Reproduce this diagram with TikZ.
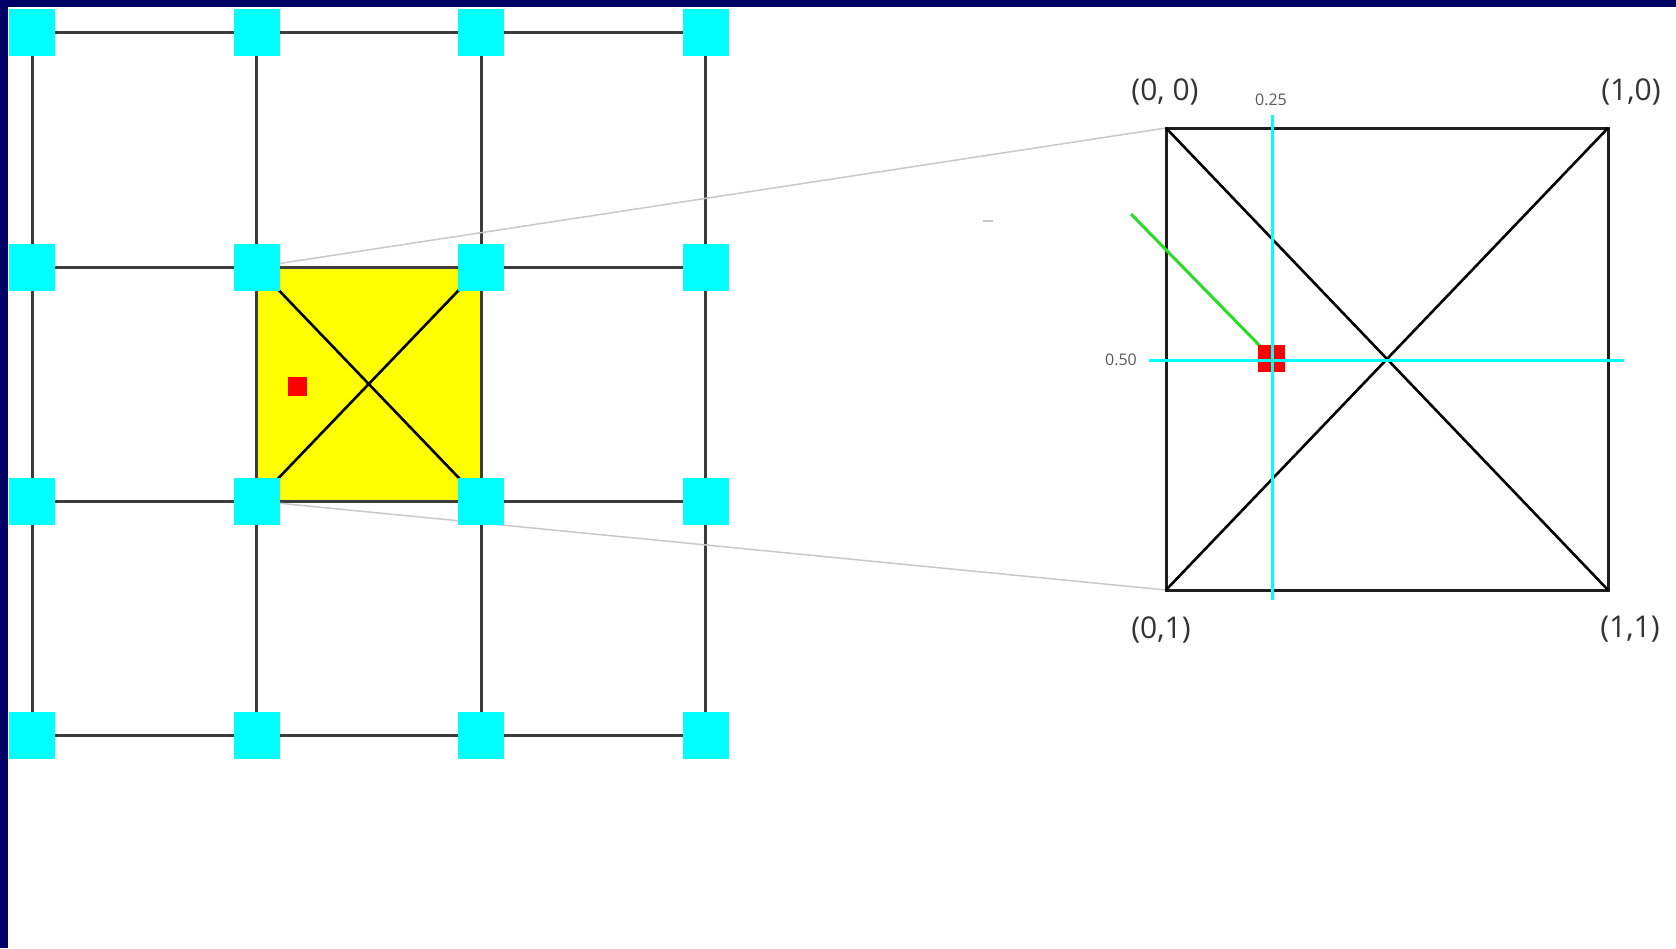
\documentclass[tikz,border=0pt]{standalone}
\usepackage{fontspec}
\setmainfont{Open Sans}
\definecolor{navyband}{RGB}{0,0,102}
\definecolor{cyanbox}{RGB}{0,255,255}
\definecolor{gridgray}{RGB}{60,60,60}
\definecolor{linkgray}{RGB}{200,200,200}
\definecolor{cellyellow}{RGB}{255,255,0}
\definecolor{probered}{RGB}{255,0,0}
\definecolor{raygreen}{RGB}{40,220,40}
\definecolor{ticktext}{RGB}{90,90,90}
\pgfdeclarelayer{bg}
\pgfdeclarelayer{page}
\pgfsetlayers{page,bg,main}
\begin{document}
\begin{tikzpicture}[x=1pt,y=-1pt,
  vtx/.style={fill=cyanbox, draw=none, inner sep=0pt, minimum width=46pt, minimum height=47pt},
  gridline/.style={draw=gridgray, line width=3pt},
  edgeline/.style={draw=black!88, line width=3pt},
  diagline/.style={draw=black, line width=2.6pt},
  linkline/.style={draw=linkgray, line width=1.5pt},
  crossline/.style={draw=cyanbox, line width=3pt},
  corner/.style={font=\fontsize{30}{36}\selectfont, text=black!80, inner sep=0pt},
  tick/.style={font=\fontsize{16}{19}\selectfont, text=ticktext, inner sep=0pt}]
\useasboundingbox (0,0) rectangle (1676,948);
\begin{pgfonlayer}{page}
  \fill[white] (0,0) rectangle (1676,948);
  \fill[navyband] (0,0) rectangle (1676,7);
  \fill[navyband] (0,0) rectangle (8,948);
\end{pgfonlayer}

% lattice vertices
\foreach \i/\x in {1/32,2/256.5,3/481,4/705.5}
  \foreach \j/\y in {1/32,2/267,3/501,4/735}
    \node[vtx] (v\i\j) at (\x,\y) {};

\begin{pgfonlayer}{bg}
  % highlighted cell
  \fill[cellyellow] (v22.center) rectangle (v33.center);
  % lattice edges
  \foreach \j in {1,2,3,4}{
    \draw[gridline] (v1\j.center) -- (v2\j.center);
    \draw[gridline] (v2\j.center) -- (v3\j.center);
    \draw[gridline] (v3\j.center) -- (v4\j.center);
  }
  \foreach \i in {1,2,3,4}{
    \draw[gridline] (v\i1.center) -- (v\i2.center);
    \draw[gridline] (v\i2.center) -- (v\i3.center);
    \draw[gridline] (v\i3.center) -- (v\i4.center);
  }
  \draw[diagline] (v22.center) -- (v33.center);
  \draw[diagline] (v32.center) -- (v23.center);
\end{pgfonlayer}

% sample point inside the cell
\fill[probered] (288,377) rectangle (307,396);

% enlarged cell
\coordinate (c00) at (1166,128);
\coordinate (c10) at (1608,128);
\coordinate (c01) at (1166,590);
\coordinate (c11) at (1608,590);
\draw[edgeline] (c00) -- (c10) -- (c11) -- (c01) -- cycle;
\draw[diagline] (c00) -- (c11);
\draw[diagline] (c10) -- (c01);

\begin{pgfonlayer}{bg}
  \draw[linkline] (v22.center) -- (c00);
  \draw[linkline] (v23.center) -- (c01);
  \draw[draw=linkgray, line width=1.5pt] (983,221) -- (993,221);
\end{pgfonlayer}

% ray towards the sample point
\coordinate (rayend) at (1131,214);
\draw[draw=raygreen, line width=3pt] (rayend) -- (1261,347);
\fill[probered] (1258,345) rectangle (1285,372);

% fractional position guides
\coordinate (vtop) at (1272,115);
\coordinate (vbot) at (1272,600);
\coordinate (hleft) at (1149,360);
\coordinate (hright) at (1624,360);
\draw[crossline] (vtop) -- (vbot);
\draw[crossline] (hleft) -- (hright);

% labels
\node[corner] (l00) at (1165,92) {(0, 0)};
\node[corner] (l10) at (1631,92) {(1,0)};
\node[corner] (l01) at (1161,630) {(0,1)};
\node[corner] (l11) at (1630,629) {(1,1)};
\node[tick] (t25) at (1271,100) {0.25};
\node[tick] (t50) at (1121,360) {0.50};
\end{tikzpicture}
\end{document}
